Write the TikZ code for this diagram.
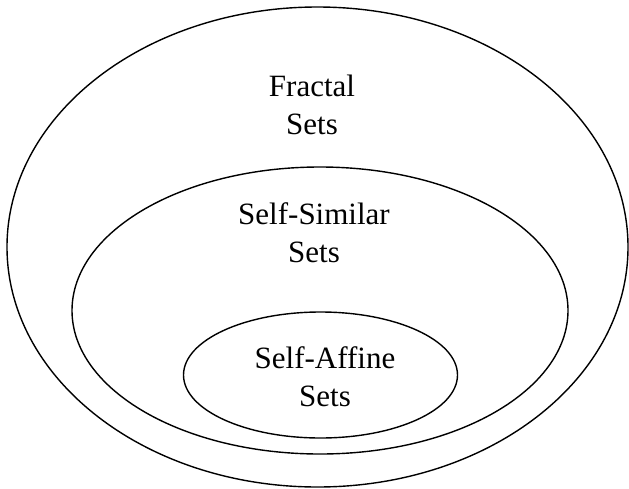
\documentclass[tikz,border=0pt]{standalone}
\usepackage{fontspec}
\setmainfont{Liberation Serif}
\begin{document}
\begin{tikzpicture}[x=1pt,y=-1pt,
  ring/.style={draw=black,line width=1.4pt},
  lbl/.style={align=center,anchor=base,inner sep=0pt,font=\fontsize{31}{38.5}\selectfont}]
\useasboundingbox (0,0) rectangle (629,488);
\draw[ring] (317.5,247) ellipse [x radius=310.5, y radius=240];
\draw[ring] (320,310.5) ellipse [x radius=248, y radius=143.5];
\draw[ring] (320.5,375) ellipse [x radius=137, y radius=63];
\node[lbl] (fractal) at (312,134.5) {Fractal\\Sets};
\node[lbl] (similar) at (314,262.5) {Self-Similar\\Sets};
\node[lbl] (affine) at (325,406.5) {Self-Affine\\Sets};
\end{tikzpicture}
\end{document}
